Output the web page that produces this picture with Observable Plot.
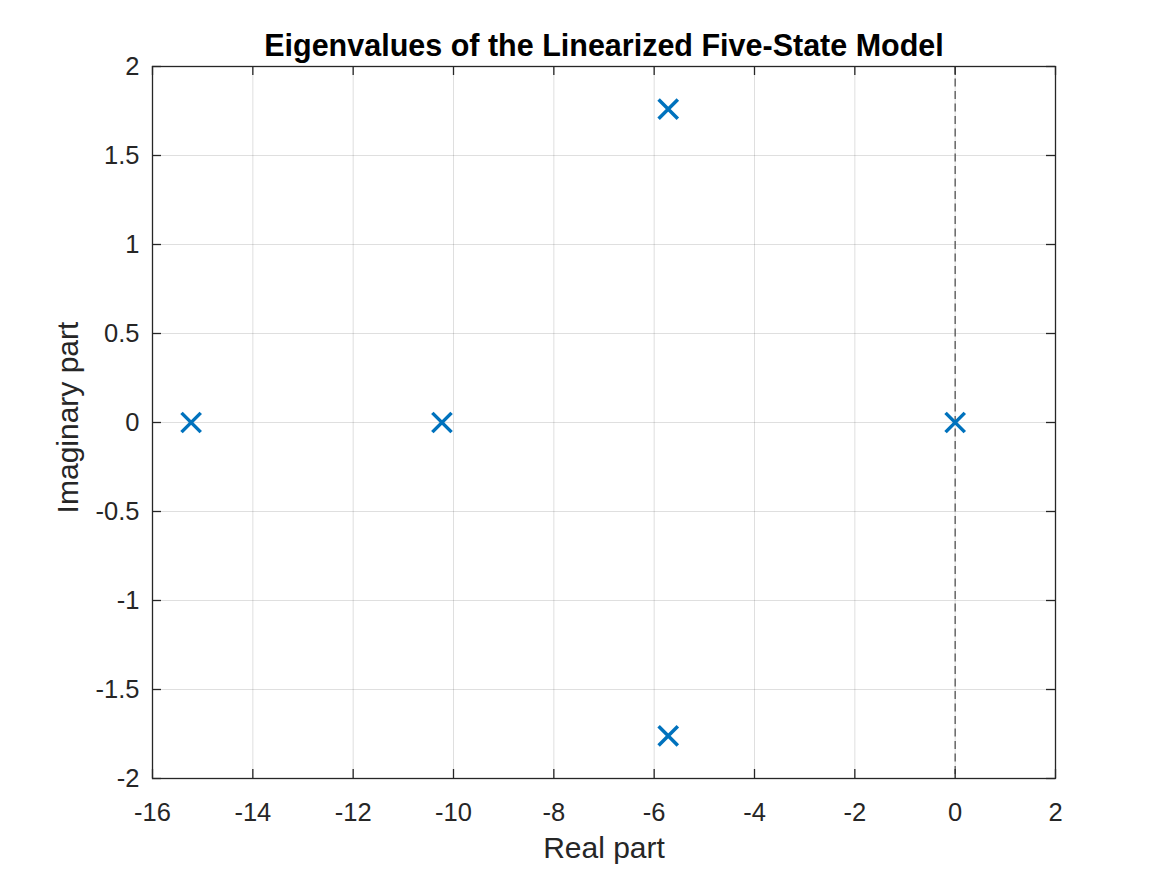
<!DOCTYPE html>
<html>
<head>
<meta charset="utf-8">
<script src="https://cdn.jsdelivr.net/npm/d3@7"></script>
<script src="https://cdn.jsdelivr.net/npm/@observablehq/plot@0.6"></script>
<style>
  html, body { margin: 0; padding: 0; background: #fff; }
  #chart { width: 1167px; height: 875px; }
</style>
</head>
<body>
<div id="chart"></div>
<script>
// Eigenvalues (real, imaginary)
const realParts = [-15.23, -10.23, -5.72, -5.72, 0.0];
const imagParts = [0, 0, 1.76, -1.76, 0];
const xTicks = [-16, -14, -12, -10, -8, -6, -4, -2, 0, 2];
const yTicks = [-2, -1.5, -1, -0.5, 0, 0.5, 1, 1.5, 2];
const titleText = "Eigenvalues of the Linearized Five-State Model";
const xLabel = "Real part";
const yLabel = "Imaginary part";

const eig = realParts.map((re, i) => ({re, im: imagParts[i]}));

const W = 1167, H = 875;
const mL = 152, mR = 112, mT = 66, mB = 97;
const plotH = H - mT - mB;
const plotW = W - mL - mR;
const tickLen = 9;
const axisColor = "#262626";
const font = "'Liberation Sans', Arial, Helvetica, sans-serif";

const chart = Plot.plot({
  width: W,
  height: H,
  marginLeft: mL,
  marginRight: mR,
  marginTop: mT,
  marginBottom: mB,
  style: {fontFamily: font, fontSize: "25.5px", color: axisColor, background: "#fff", overflow: "visible"},
  x: {domain: [-16, 2], ticks: xTicks},
  y: {domain: [-2, 2], ticks: yTicks},
  marks: [
    // grid
    Plot.ruleX(xTicks, {x: d => d, stroke: axisColor, strokeOpacity: 0.15, strokeWidth: 1}),
    Plot.ruleY(yTicks, {y: d => d, stroke: axisColor, strokeOpacity: 0.15, strokeWidth: 1}),
    // dashed zero line
    Plot.ruleX([0], {stroke: "#555", strokeWidth: 1.3, strokeDasharray: "8,4.5"}),
    // inward ticks (bottom, top, left, right)
    Plot.ruleX(xTicks, {x: d => d, stroke: axisColor, strokeWidth: 1.3, insetTop: plotH - tickLen}),
    Plot.ruleX(xTicks, {x: d => d, stroke: axisColor, strokeWidth: 1.3, insetBottom: plotH - tickLen}),
    Plot.ruleY(yTicks, {y: d => d, stroke: axisColor, strokeWidth: 1.3, insetRight: plotW - tickLen}),
    Plot.ruleY(yTicks, {y: d => d, stroke: axisColor, strokeWidth: 1.3, insetLeft: plotW - tickLen}),
    // frame
    Plot.frame({stroke: axisColor, strokeWidth: 1.3}),
    // tick labels
    Plot.axisX({ticks: xTicks, tickSize: 0, tickPadding: 24, label: null, tickFormat: d => String(d), fill: axisColor, fontSize: 25.5}),
    Plot.axisY({ticks: yTicks, tickSize: 0, tickPadding: 13, label: null, tickFormat: d => String(d), fill: axisColor, fontSize: 25.5}),
    // eigenvalue markers
    Plot.dot(eig, {x: "re", y: "im", symbol: "times", r: 8.8, stroke: "#0072BD", strokeWidth: 3.5}),
    // title and labels
    Plot.text([titleText], {text: d => d, frameAnchor: "top", dy: -11, lineAnchor: "bottom", fontWeight: "bold", fontSize: 30.5, fill: "#000"}),
    Plot.text([xLabel], {text: d => d, frameAnchor: "bottom", dy: 79, lineAnchor: "bottom", fontSize: 30, fill: axisColor}),
    Plot.text([yLabel], {text: d => d, frameAnchor: "left", textAnchor: "middle", dx: -74.5, dy: -5, rotate: -90, lineAnchor: "bottom", fontSize: 30, fill: axisColor})
  ]
});
document.getElementById("chart").appendChild(chart);
</script>
</body>
</html>
